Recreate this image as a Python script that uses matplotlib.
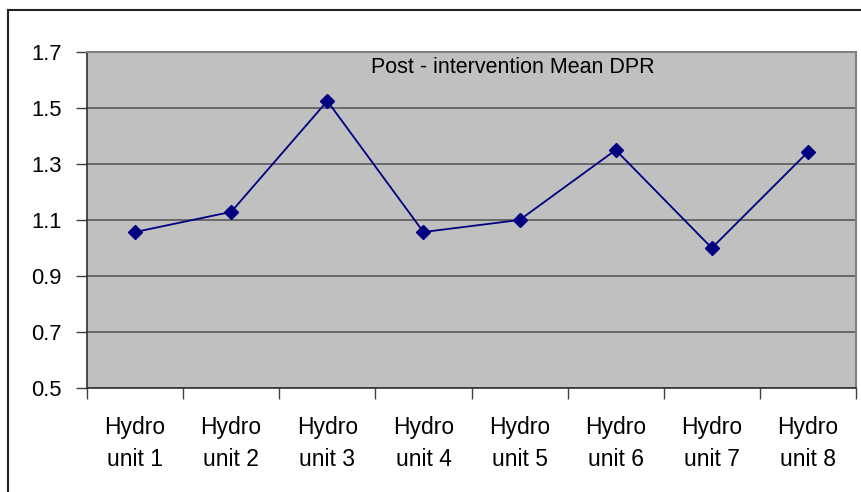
import matplotlib
matplotlib.use("Agg")
import matplotlib.pyplot as plt
from matplotlib.lines import Line2D

# datos del grafico
unidades = ["Hydro\nunit 1", "Hydro\nunit 2", "Hydro\nunit 3", "Hydro\nunit 4",
            "Hydro\nunit 5", "Hydro\nunit 6", "Hydro\nunit 7", "Hydro\nunit 8"]
dpr_medio = [1.057, 1.129, 1.525, 1.057, 1.10, 1.35, 1.00, 1.343]
ticks_y = [0.5, 0.7, 0.9, 1.1, 1.3, 1.5, 1.7]
titulo = "Post - intervention Mean DPR"

plt.rcParams["font.family"] = ["Liberation Sans", "DejaVu Sans"]

fig = plt.figure(figsize=(8.61, 4.92), dpi=100)
ax = fig.add_axes([87 / 861, 1 - 388 / 492, (856 - 87) / 861, (388 - 52) / 492])
ax.set_facecolor("#C0C0C0")

posiciones = [i + 0.5 for i in range(len(unidades))]
ax.plot(posiciones, dpr_medio, color="#000080", linewidth=1.3,
        marker="D", markersize=7.2, markerfacecolor="#000080",
        markeredgecolor="#000080", zorder=3)

ax.set_xlim(0, len(unidades))
ax.set_ylim(0.5, 1.7)
ax.set_yticks(ticks_y)
ax.set_yticklabels([f"{v:.1f}" for v in ticks_y], fontsize=15.8)
ax.grid(axis="y", color="#5a5a5a", linewidth=1.2, zorder=1)
ax.set_axisbelow(True)

# ticks en los bordes de categoria, etiquetas en el centro
ax.set_xticks(range(len(unidades) + 1))
ax.set_xticklabels([])
ax.set_xticks(posiciones, minor=True)
ax.set_xticklabels(unidades, minor=True, fontsize=16.5, linespacing=1.5)
ax.tick_params(axis="x", which="major", length=8, width=1, color="#404040", direction="out")
ax.tick_params(axis="x", which="minor", length=0, pad=20)
ax.tick_params(axis="y", length=8, width=1, color="#404040", direction="out", pad=10)

for lado in ["top", "right"]:
    ax.spines[lado].set_color("#808080")
    ax.spines[lado].set_linewidth(1.5)
for lado in ["left", "bottom"]:
    ax.spines[lado].set_color("#303030")
    ax.spines[lado].set_linewidth(1.2)

ax.text((513 - 87) / (856 - 87), 0.955, titulo, transform=ax.transAxes,
        fontsize=15.5, ha="center", va="center")

# borde exterior (solo arriba e izquierda visibles)
fig.add_artist(Line2D([8 / 861, 8 / 861], [0, 1 - 10 / 492], color="#222222", linewidth=1.5))
fig.add_artist(Line2D([8 / 861, 1], [1 - 10 / 492, 1 - 10 / 492], color="#222222", linewidth=1.5))

fig.savefig("out.png", dpi=100, facecolor="white")
